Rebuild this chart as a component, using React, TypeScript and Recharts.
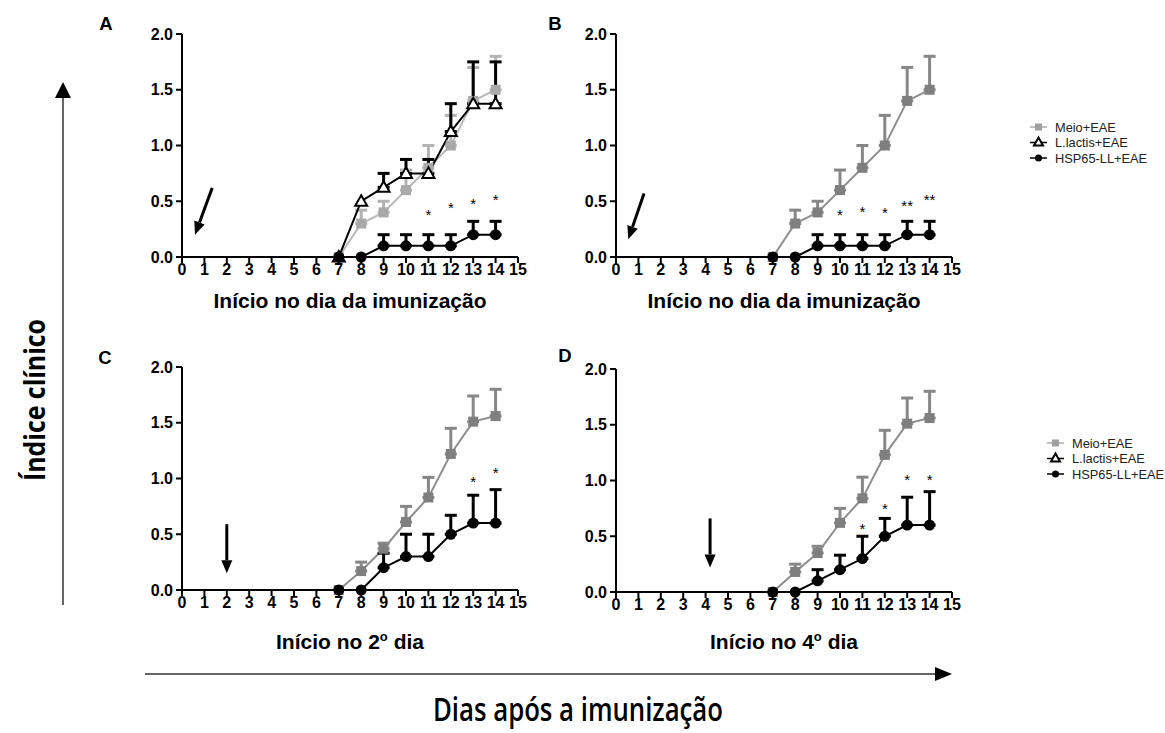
import React from "react";
import {
  ComposedChart,
  Line,
  XAxis,
  YAxis,
  ErrorBar,
  Scatter,
  ReferenceLine,
} from "recharts";

const FONT = "'Liberation Sans', Arial, Helvetica, sans-serif";
const BIG_FONT = "'Open Sans', 'Noto Sans', sans-serif";

const days = [7, 8, 9, 10, 11, 12, 13, 14];
const xTicks = [0, 1, 2, 3, 4, 5, 6, 7, 8, 9, 10, 11, 12, 13, 14, 15];
const yTicks = [0, 0.5, 1, 1.5, 2];

// painel A - inicio no dia da imunizacao
const meioA = [0, 0.3, 0.4, 0.6, 0.8, 1.0, 1.4, 1.5];
const meioSemA = [0, 0.12, 0.1, 0.18, 0.2, 0.27, 0.3, 0.3];
const lactisA = [0, 0.5, 0.625, 0.75, 0.75, 1.125, 1.375, 1.375];
const lactisSemA = [0, 0, 0.125, 0.125, 0.125, 0.25, 0.375, 0.375];
const hspA = [0, 0, 0.1, 0.1, 0.1, 0.1, 0.2, 0.2];
const hspSemA = [0, 0, 0.1, 0.1, 0.1, 0.1, 0.12, 0.12];
const starDaysA = [11, 12, 13, 14];
const starYA = [0.4, 0.47, 0.5, 0.54];
const starTxtA = ["*", "*", "*", "*"];
const arrowA = [[1.35, 0.62], [0.58, 0.2]];

// painel B
const meioB = [0, 0.3, 0.4, 0.6, 0.8, 1.0, 1.4, 1.5];
const meioSemB = [0, 0.12, 0.1, 0.18, 0.2, 0.27, 0.3, 0.3];
const hspB = [0, 0, 0.1, 0.1, 0.1, 0.1, 0.2, 0.2];
const hspSemB = [0, 0, 0.1, 0.1, 0.1, 0.1, 0.12, 0.12];
const starDaysB = [10, 11, 12, 13, 14];
const starYB = [0.4, 0.43, 0.42, 0.48, 0.54];
const starTxtB = ["*", "*", "*", "**", "**"];
const arrowB = [[1.25, 0.57], [0.55, 0.16]];

// painel C - inicio no 2o dia
const meioC = [0, 0.17, 0.37, 0.61, 0.83, 1.22, 1.51, 1.56];
const meioSemC = [0, 0.08, 0.05, 0.14, 0.18, 0.23, 0.23, 0.24];
const hspC = [0, 0, 0.2, 0.3, 0.3, 0.5, 0.6, 0.6];
const hspSemC = [0, 0, 0.13, 0.2, 0.2, 0.17, 0.25, 0.3];
const starDaysC = [13, 14];
const starYC = [1.0, 1.08];
const starTxtC = ["*", "*"];
const arrowC = [[2, 0.59], [2, 0.15]];

// painel D - inicio no 4o dia
const meioD = [0, 0.18, 0.35, 0.62, 0.84, 1.23, 1.51, 1.56];
const meioSemD = [0, 0.07, 0.06, 0.13, 0.19, 0.22, 0.23, 0.24];
const hspD = [0, 0, 0.1, 0.2, 0.3, 0.5, 0.6, 0.6];
const hspSemD = [0, 0, 0.1, 0.13, 0.2, 0.16, 0.25, 0.3];
const starDaysD = [11, 12, 13, 14];
const starYD = [0.59, 0.77, 1.03, 1.03];
const starTxtD = ["*", "*", "*", "*"];
const arrowD = [[4.2, 0.66], [4.2, 0.22]];

const legendNames = ["Meio+EAE", "L.lactis+EAE", "HSP65-LL+EAE"];

const upper = (v: number) => (v > 0 ? [0, v] : undefined);

function buildRows(
  meio: number[],
  meioSem: number[],
  hsp: number[],
  hspSem: number[],
  lactis?: number[],
  lactisSem?: number[]
) {
  return days.map((day, i) => ({
    day,
    meio: meio[i],
    meioE: upper(meioSem[i]),
    hsp: hsp[i],
    hspE: upper(hspSem[i]),
    lactis: lactis ? lactis[i] : undefined,
    lactisE: lactisSem ? upper(lactisSem[i]) : undefined,
  }));
}

const buildStars = (d: number[], y: number[], t: string[]) =>
  d.map((day, i) => ({ day, y: y[i], s: t[i] }));

const squareDot = (color: string) => (p: any) => {
  if (p.cx == null || p.cy == null) return <g key={`s${p.index}`} />;
  return (
    <rect key={`s${p.index}`} x={p.cx - 5} y={p.cy - 5} width={10} height={10} fill={color} />
  );
};

const circleDot = (p: any) => {
  if (p.cx == null || p.cy == null) return <g key={`c${p.index}`} />;
  return <circle key={`c${p.index}`} cx={p.cx} cy={p.cy} r={5.5} fill="#000" />;
};

const triangleDot = (p: any) => {
  if (p.cx == null || p.cy == null) return <g key={`t${p.index}`} />;
  return (
    <polygon
      key={`t${p.index}`}
      points={`${p.cx},${p.cy - 6} ${p.cx - 6},${p.cy + 4.5} ${p.cx + 6},${p.cy + 4.5}`}
      fill="#fff"
      stroke="#000"
      strokeWidth={2}
    />
  );
};

const starShape = (p: any) => (
  <text
    x={p.cx}
    y={p.cy + 8}
    textAnchor="middle"
    fontSize={15}
    fontFamily={FONT}
    fill="#000"
  >
    {p.payload.s}
  </text>
);

const arrowShape = (p: any) => {
  const { x1, y1, x2, y2 } = p;
  const ang = Math.atan2(y2 - y1, x2 - x1);
  const L = 13;
  const hw = 5.5;
  const bx = x2 - L * Math.cos(ang);
  const by = y2 - L * Math.sin(ang);
  const px = -Math.sin(ang) * hw;
  const py = Math.cos(ang) * hw;
  return (
    <g>
      <line x1={x1} y1={y1} x2={bx} y2={by} stroke="#000" strokeWidth={3} />
      <polygon
        points={`${x2},${y2} ${bx + px},${by + py} ${bx - px},${by - py}`}
        fill="#000"
      />
    </g>
  );
};

const tickStyle = { fill: "#000", fontSize: 16, fontWeight: 700, fontFamily: FONT };
const axisStroke = { stroke: "#000", strokeWidth: 2 };

const PLOT_W = 336;
const PLOT_H = 223;
const ML = 70;
const MT = 20;
const MR = 20;
const MB = 40;
const Y_W = 50;
const X_H = 30;

function Panel({
  x,
  y,
  rows,
  stars,
  arrow,
  light,
  showLactis,
}: {
  x: number;
  y: number;
  rows: any[];
  stars: any[];
  arrow: number[][];
  light: boolean;
  showLactis: boolean;
}) {
  const grayLine = light ? "#b8b8b8" : "#8e8e8e";
  const graySq = light ? "#a9a9a9" : "#7f7f7f";
  const grayErr = light ? "#b3b3b3" : "#878787";
  return (
    <div style={{ position: "absolute", left: x - ML, top: y - MT }}>
      <ComposedChart
        width={PLOT_W + ML + MR}
        height={PLOT_H + MT + MB}
        data={rows}
        margin={{ top: MT, right: MR, left: ML - Y_W, bottom: MB - X_H }}
      >
        <XAxis
          type="number"
          dataKey="day"
          domain={[0, 15]}
          ticks={xTicks}
          interval={0}
          height={X_H}
          tickSize={6}
          tickMargin={1}
          tick={tickStyle}
          axisLine={axisStroke}
          tickLine={axisStroke}
        />
        <YAxis
          type="number"
          domain={[0, 2]}
          ticks={yTicks}
          width={Y_W}
          tickSize={6}
          tickMargin={3}
          tickFormatter={(v: number) => v.toFixed(1)}
          tick={tickStyle}
          axisLine={axisStroke}
          tickLine={axisStroke}
        />
        <ReferenceLine
          segment={[
            { x: arrow[0][0], y: arrow[0][1] },
            { x: arrow[1][0], y: arrow[1][1] },
          ]}
          shape={arrowShape}
          ifOverflow="visible"
        />
        <Line
          dataKey="meio"
          stroke={grayLine}
          strokeWidth={2}
          dot={squareDot(graySq)}
          activeDot={false}
          isAnimationActive={false}
        >
          <ErrorBar
            dataKey="meioE"
            width={6}
            strokeWidth={3}
            stroke={grayErr}
            direction="y"
            isAnimationActive={false}
          />
        </Line>
        {showLactis && (
          <Line
            dataKey="lactis"
            stroke="#000"
            strokeWidth={2}
            dot={triangleDot}
            activeDot={false}
            isAnimationActive={false}
          >
            <ErrorBar
              dataKey="lactisE"
              width={6}
              strokeWidth={3}
              stroke="#000"
              direction="y"
              isAnimationActive={false}
            />
          </Line>
        )}
        <Line
          dataKey="hsp"
          stroke="#000"
          strokeWidth={2}
          dot={circleDot}
          activeDot={false}
          isAnimationActive={false}
        >
          <ErrorBar
            dataKey="hspE"
            width={6}
            strokeWidth={3}
            stroke="#000"
            direction="y"
            isAnimationActive={false}
          />
        </Line>
        <Scatter data={stars} dataKey="y" shape={starShape} isAnimationActive={false} />
      </ComposedChart>
    </div>
  );
}

function LegendBox({ x, y }: { x: number; y: number }) {
  const gap = 15.5;
  return (
    <g fontFamily={FONT} fontSize={12.8} fill="#222">
      {legendNames.map((name, i) => {
        const cy = y + i * gap;
        return (
          <g key={name}>
            <line
              x1={x}
              x2={x + 17}
              y1={cy}
              y2={cy}
              stroke={i === 0 ? "#a8a8a8" : "#000"}
              strokeWidth={1.5}
            />
            {i === 0 && <rect x={x + 5} y={cy - 3.5} width={7} height={7} fill="#a0a0a0" />}
            {i === 1 && (
              <polygon
                points={`${x + 8.5},${cy - 5} ${x + 4},${cy + 3} ${x + 13},${cy + 3}`}
                fill="#fff"
                stroke="#000"
                strokeWidth={2}
              />
            )}
            {i === 2 && <circle cx={x + 8.5} cy={cy} r={3.5} fill="#000" />}
            <text x={x + 25} y={cy + 4.5}>
              {name}
            </text>
          </g>
        );
      })}
    </g>
  );
}

const rowsA = buildRows(meioA, meioSemA, hspA, hspSemA, lactisA, lactisSemA);
const rowsB = buildRows(meioB, meioSemB, hspB, hspSemB);
const rowsC = buildRows(meioC, meioSemC, hspC, hspSemC);
const rowsD = buildRows(meioD, meioSemD, hspD, hspSemD);

export default function App() {
  return (
    <div
      style={{
        position: "absolute",
        left: 0,
        top: 0,
        width: 1165,
        height: 733,
        background: "#fff",
        overflow: "hidden",
      }}
    >
      <Panel x={182} y={34} rows={rowsA} stars={buildStars(starDaysA, starYA, starTxtA)} arrow={arrowA} light showLactis />
      <Panel x={616} y={34} rows={rowsB} stars={buildStars(starDaysB, starYB, starTxtB)} arrow={arrowB} light={false} showLactis={false} />
      <Panel x={182} y={367} rows={rowsC} stars={buildStars(starDaysC, starYC, starTxtC)} arrow={arrowC} light={false} showLactis={false} />
      <Panel x={616} y={369} rows={rowsD} stars={buildStars(starDaysD, starYD, starTxtD)} arrow={arrowD} light={false} showLactis={false} />

      <svg
        width={1165}
        height={733}
        style={{ position: "absolute", left: 0, top: 0, pointerEvents: "none" }}
      >
        <g fontFamily={FONT} fontWeight={700} fontSize={18.5} fill="#000">
          <text x={106} y={30} textAnchor="middle">A</text>
          <text x={555} y={30} textAnchor="middle">B</text>
          <text x={105} y={364} textAnchor="middle">C</text>
          <text x={565} y={362} textAnchor="middle">D</text>
        </g>
        <g fontFamily={FONT} fontWeight={700} fontSize={21} fill="#000" textAnchor="middle">
          <text x={350} y={308}>Início no dia da imunização</text>
          <text x={784} y={308}>Início no dia da imunização</text>
          <text x={350} y={649}>
            Início no 2<tspan fontSize={13} dy={-8}>o</tspan>
            <tspan dy={8}> dia</tspan>
          </text>
          <text x={784} y={649}>
            Início no 4<tspan fontSize={13} dy={-8}>o</tspan>
            <tspan dy={8}> dia</tspan>
          </text>
        </g>

        <LegendBox x={1030} y={127} />
        <LegendBox x={1047} y={443} />

        {/* eixo vertical: Índice clínico */}
        <line x1={63} y1={605} x2={63} y2={96} stroke="#333" strokeWidth={1.5} />
        <polygon points="63,82 55,98 71,98" fill="#000" />
        <text
          x={0}
          y={0}
          transform="translate(45,400) rotate(-90)"
          textAnchor="middle"
          fontFamily={BIG_FONT}
          fontWeight={700}
          fontSize={28}
          textLength={162}
          lengthAdjust="spacingAndGlyphs"
          fill="#000"
        >
          Índice clínico
        </text>

        {/* eixo horizontal: Dias após a imunização */}
        <line x1={145} y1={674} x2={936} y2={674} stroke="#333" strokeWidth={1.5} />
        <polygon points="952,674 935,667 935,681" fill="#000" />
        <text
          x={578}
          y={721}
          textAnchor="middle"
          fontFamily={BIG_FONT}
          fontWeight={600}
          fontSize={32}
          textLength={290}
          lengthAdjust="spacingAndGlyphs"
          fill="#000"
        >
          Dias após a imunização
        </text>
      </svg>
    </div>
  );
}
